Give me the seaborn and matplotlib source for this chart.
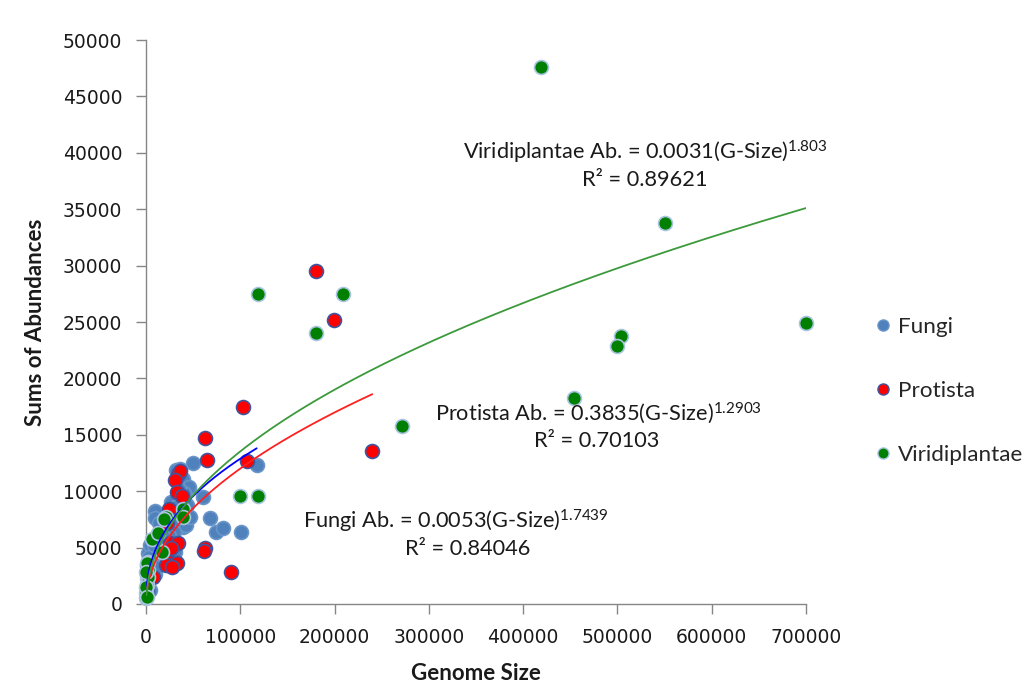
import numpy as np
import pandas as pd
import matplotlib
matplotlib.use("Agg")
import matplotlib.pyplot as plt
import seaborn as sns
from matplotlib.lines import Line2D

# ---------------- data ----------------
fungi_x = [118000, 60000, 67900, 73900, 81300, 100800, 50200, 31500, 39600, 45900,
           28300, 9500, 39600, 34300, 30800, 6000, 9500, 2500, 2500, 7800,
           4200, 26000, 33000, 38000, 44000, 29000, 36000, 42000, 30000, 24000,
           47000, 10000, 14000, 4000, 3000, 1500, 8000, 18000, 40000, 35000,
           12000, 20000, 1000, 36000]
fungi_y = [12300, 9500, 7650, 6400, 6750, 6400, 12500, 11900, 11100, 10400,
           9050, 8250, 6850, 6850, 4650, 3900, 2700, 2150, 4500, 2700,
           1250, 9000, 8700, 8200, 8800, 7800, 7300, 7000, 6400, 6000,
           7700, 7600, 7200, 5200, 4200, 3500, 5200, 6000, 9800, 10200,
           3300, 4200, 2700, 12000]

protista_x = [180300, 199400, 102900, 63000, 64500, 240000, 106800, 90000, 62600, 61500,
              34300, 36000, 30800, 32500, 38500, 24700, 22000, 25500, 34300, 27000,
              24700, 29000, 21200, 32500, 27200, 7800, 1200]
protista_y = [29500, 25200, 17500, 14700, 12800, 13600, 12700, 2800, 5000, 4700,
              11500, 11800, 10950, 9950, 9550, 8450, 7150, 5450, 5400, 5000,
              3750, 3450, 3450, 3600, 3300, 2400, 1000]

viridi_x = [419000, 550000, 700000, 503800, 499500, 454000, 271500, 209000, 118800, 180300,
            99700, 118800, 39600, 39600, 21200, 19500, 6000, 13000, 16600, 2500,
            2500, 700, 700, 300, 300, 700, 2500, 300, 300, 700]
viridi_y = [47600, 33800, 24900, 23800, 22900, 18300, 15800, 27500, 27500, 24000,
            9600, 9600, 8450, 7700, 7750, 7500, 5800, 6250, 4650, 3750,
            3000, 2300, 1700, 950, 500, 3600, 2400, 2850, 1500, 650]

series_names = ["Fungi", "Protista", "Viridiplantae"]

# power trendlines y = a * x**b drawn over [x_start, x_end]
trend_a = [91.2, 37.97, 48.0]
trend_b = [0.43, 0.50, 0.49]
trend_start = [500, 700, 300]
trend_end = [117400, 240000, 700000]

x_ticks = [0, 100000, 200000, 300000, 400000, 500000, 600000, 700000]
y_ticks = [0, 5000, 10000, 15000, 20000, 25000, 30000, 35000, 40000, 45000, 50000]

# ---------------- styling ----------------
sns.set_theme(style="white")
plt.rcParams['font.family'] = ['Lato', 'DejaVu Sans']
plt.rcParams['mathtext.default'] = 'regular'

face_cols = ["#4F81BD", "#FF0000", "#008000"]
edge_cols = ["#6A95C8", "#3F55A0", "#A9C4E0"]
line_cols = ["#0000FF", "#FF2020", "#3C9A3C"]
axis_col = "#868686"

fig = plt.figure(figsize=(10.34, 6.96), dpi=100)
ax = fig.add_axes([0.1412, 0.1322, 0.6383, 0.8103])

df = pd.concat([
    pd.DataFrame({"x": fungi_x, "y": fungi_y, "g": "Fungi"}),
    pd.DataFrame({"x": protista_x, "y": protista_y, "g": "Protista"}),
    pd.DataFrame({"x": viridi_x, "y": viridi_y, "g": "Viridiplantae"}),
], ignore_index=True)

for i, name in enumerate(series_names):
    sub = df[df["g"] == name]
    sns.scatterplot(data=sub, x="x", y="y", color=face_cols[i], edgecolor=edge_cols[i],
                    linewidth=1.2, s=100, ax=ax, zorder=3 + i, clip_on=False, legend=False)

for i, name in enumerate(series_names):
    xc = np.linspace(trend_start[i], trend_end[i], 300)
    yc = trend_a[i] * xc ** trend_b[i]
    sns.lineplot(x=xc, y=yc, color=line_cols[i], linewidth=1.3, ax=ax,
                 estimator=None, sort=False, zorder=10)

ax.set_xlim(0, 700000)
ax.set_ylim(0, 50000)
ax.set_xticks(x_ticks)
ax.set_xticklabels([str(v) for v in x_ticks])
ax.set_yticks(y_ticks)
ax.set_yticklabels([str(v) for v in y_ticks])
for lab in ax.get_xticklabels() + ax.get_yticklabels():
    lab.set_fontfamily('DejaVu Sans')
    lab.set_fontsize(13.5)
    lab.set_color('#1a1a1a')
ax.tick_params(axis='both', direction='out', length=7, width=1, color=axis_col, pad=10,
               bottom=True, left=True)
for s in ["top", "right"]:
    ax.spines[s].set_visible(False)
for s in ["left", "bottom"]:
    ax.spines[s].set_color(axis_col)
    ax.spines[s].set_linewidth(1)
ax.grid(False)

ax.set_xlabel("Genome Size", fontsize=16, fontweight='bold', labelpad=12, color='#1a1a1a')
ax.set_ylabel("Sums of Abundances", fontsize=16, fontweight='bold', labelpad=12, color='#1a1a1a')

txt_kw = dict(ha='center', va='center', fontsize=15.7, color='#1a1a1a', zorder=12)
ax.text(530000, 40070, "Viridiplantae Ab. = 0.0031(G-Size)$^{1.803}$", **txt_kw)
ax.text(529000, 37590, "R² = 0.89621", **txt_kw)
ax.text(480000, 16930, "Protista Ab. = 0.3835(G-Size)$^{1.2903}$", **txt_kw)
ax.text(478000, 14450, "R² = 0.70103", **txt_kw)
ax.text(329000, 7360, "Fungi Ab. = 0.0053(G-Size)$^{1.7439}$", **txt_kw)
ax.text(341000, 4875, "R² = 0.84046", **txt_kw)

handles = [Line2D([0], [0], marker='o', linestyle='none', markersize=8,
                  markerfacecolor=face_cols[i], markeredgecolor=edge_cols[i],
                  markeredgewidth=1) for i in range(3)]
fig.legend(handles, series_names, loc='center left', bbox_to_anchor=(0.8355, 0.438),
           frameon=False, fontsize=16.2, labelspacing=1.95, handlelength=0.7,
           handletextpad=0.3, borderpad=0)

fig.savefig("out.png", dpi=100, facecolor='white')
